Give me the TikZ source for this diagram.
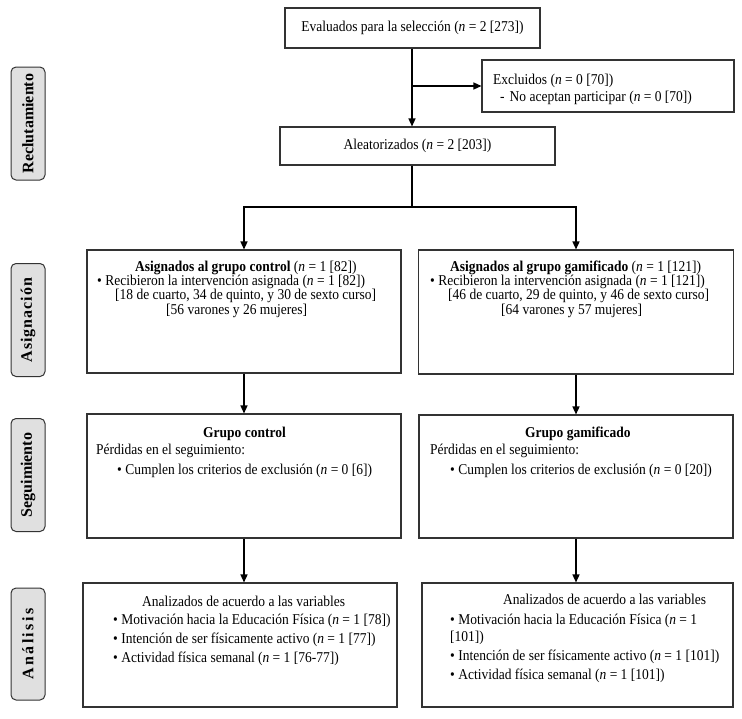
\documentclass[tikz,border=0pt]{standalone}
\usepackage{fontspec}
\setmainfont{Liberation Serif}[FakeStretch=0.9]
\newfontfamily\sidefont{Liberation Serif}
\usetikzlibrary{arrows.meta}

\begin{document}
\begin{tikzpicture}[x=1pt,y=-1pt]
		\tikzstyle{every node} = [font=\fontsize{15}{17}\selectfont]
		\tikzstyle{box} = [draw=black!80, line width=1.1pt, inner sep=0pt, fill=white]
		\tikzstyle{tri} = [-{Triangle[length=8pt,width=7pt]}, line width=1.4pt]
		\tikzstyle{line} = [line width=1.4pt]
		\tikzstyle{stage} = [draw=black!80, line width=1pt, fill=black!12, rounded corners=5pt, rotate=90, minimum width=113pt, minimum height=34pt, inner sep=0pt, font=\sidefont\fontsize{16}{16}\selectfont\bfseries]
		\tikzstyle{txt} = [inner sep=0pt, anchor=base west]
		\useasboundingbox (0,0) rectangle (742,718);
		% side labels
		\node [stage] (v10) at (28,123.5) {Reclutamiento};
		\node [stage] (v11) at (28,320) {\addfontfeature{LetterSpace=6}Asignación};
		\node [stage] (v12) at (28,475) {Seguimiento};
		\node [stage, minimum width=112pt] (v13) at (28,644) {\addfontfeature{LetterSpace=15}Análisis};
		% boxes
		\node [box, minimum width=255pt, minimum height=40pt] (v1) at (412.5,28) {Evaluados para la selección (\textit{n} = 2 [273])};
		\node [box, minimum width=252pt, minimum height=52pt] (v2) at (608,86) {};
		\node [box, minimum width=275pt, minimum height=38pt] (v3) at (417.5,146) {Aleatorizados (\textit{n} = 2 [203])};
		\node [box, minimum width=314pt, minimum height=123pt] (v4) at (244,311.5) {};
		\node [box, minimum width=315pt, minimum height=124pt] (v5) at (576,312) {};
		\node [box, minimum width=314pt, minimum height=124pt] (v6) at (244,476) {};
		\node [box, minimum width=314pt, minimum height=123pt] (v7) at (576,476.5) {};
		\node [box, minimum width=314pt, minimum height=124pt] (v8) at (240,645) {};
		\node [box, minimum width=311pt, minimum height=124pt] (v9) at (577.5,645) {};
		% texts
		\node [txt] (v2a) at (493,84) {Excluidos (\textit{n} = 0 [70])};
		\node [txt] (v2b) at (500,101) {-\hspace{5pt}No aceptan participar (\textit{n} = 0 [70])};
		\node [txt] (v4a) at (135,271) {\textbf{Asignados al grupo control} (\textit{n} = 1 [82])};
		\node [txt] (v4b) at (97,285) {\textbullet\ Recibieron la intervención asignada (\textit{n} = 1 [82])};
		\node [txt] (v4c) at (115,299) {[18 de cuarto, 34 de quinto, y 30 de sexto curso]};
		\node [txt] (v4d) at (166,314) {[56 varones y 26 mujeres]};
		\node [txt] (v5a) at (450,271) {\textbf{Asignados al grupo gamificado} (\textit{n} = 1 [121])};
		\node [txt] (v5b) at (430,285) {\textbullet\ Recibieron la intervención asignada (\textit{n} = 1 [121])};
		\node [txt] (v5c) at (448,299) {[46 de cuarto, 29 de quinto, y 46 de sexto curso]};
		\node [txt] (v5d) at (501,314) {[64 varones y 57 mujeres]};
		\node [txt] (v6a) at (203,437) {\textbf{Grupo control}};
		\node [txt] (v6b) at (96,454) {Pérdidas en el seguimiento:};
		\node [txt] (v6c) at (117,474) {\textbullet\ Cumplen los criterios de exclusión (\textit{n} = 0 [6])};
		\node [txt] (v7a) at (525,437) {\textbf{Grupo gamificado}};
		\node [txt] (v7b) at (430,454) {Pérdidas en el seguimiento:};
		\node [txt] (v7c) at (450,474) {\textbullet\ Cumplen los criterios de exclusión (\textit{n} = 0 [20])};
		\node [txt] (v8a) at (142,606) {Analizados de acuerdo a las variables};
		\node [txt] (v8b) at (113,624) {\textbullet\ Motivación hacia la Educación Física (\textit{n} = 1 [78])};
		\node [txt] (v8c) at (113,643) {\textbullet\ Intención de ser físicamente activo (\textit{n} = 1 [77])};
		\node [txt] (v8d) at (113,662) {\textbullet\ Actividad física semanal (\textit{n} = 1 [76-77])};
		\node [txt] (v9a) at (503,604) {Analizados de acuerdo a las variables};
		\node [txt] (v9b) at (450,624) {\textbullet\ Motivación hacia la Educación Física (\textit{n} = 1};
		\node [txt] (v9c) at (450,641) {[101])};
		\node [txt] (v9d) at (450,660) {\textbullet\ Intención de ser físicamente activo (\textit{n} = 1 [101])};
		\node [txt] (v9e) at (450,679) {\textbullet\ Actividad física semanal (\textit{n} = 1 [101])};
		% connectors
		\coordinate (v20) at (412,86);
		\coordinate (v21) at (412,207);
		\draw [line] (v1.south -| v20) -- (v20);
		\draw [tri] (v20) -- (v3.north -| v20);
		\draw [tri] (v20) -- (v2.west);
		\draw [line] (v3.south -| v21) -- (v21);
		\draw [tri] (v21) -| (v4.north);
		\draw [tri] (v21) -| (v5.north);
		\draw [tri] (v4.south) -- (v6.north);
		\draw [tri] (v6.south) -- (v6.south |- v8.north);
		\draw [tri] (v5.south) -- (v5.south |- v7.north);
		\draw [tri] (v7.south) -- (v7.south |- v9.north);
\end{tikzpicture}
\end{document}
